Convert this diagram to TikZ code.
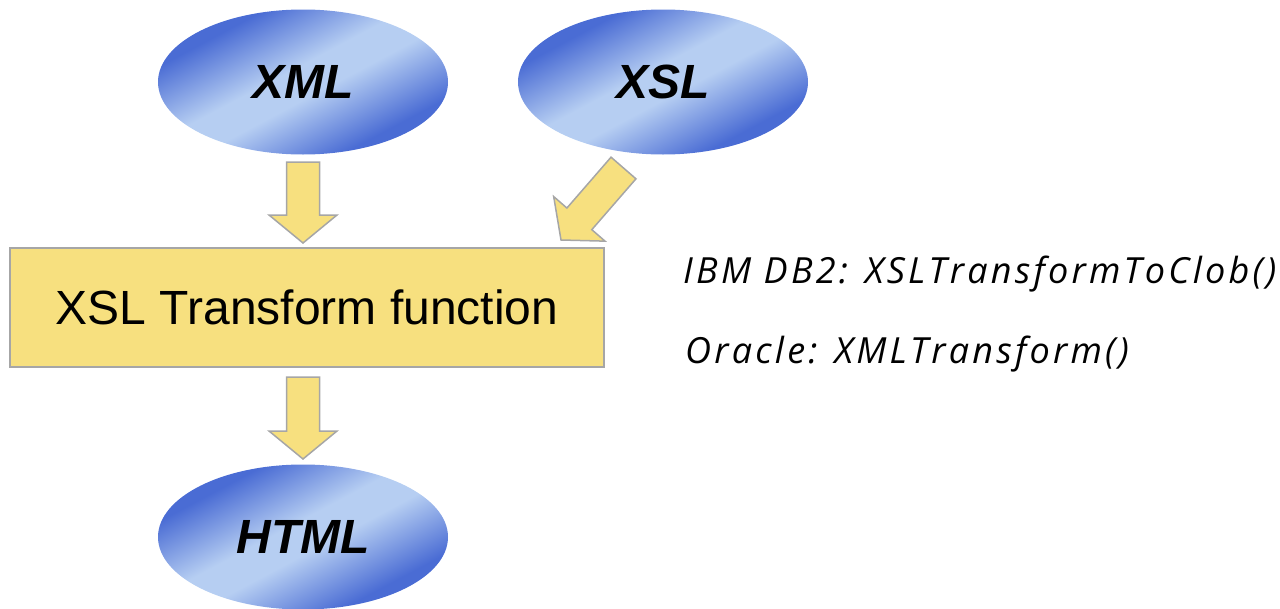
\documentclass[tikz,border=0pt]{standalone}
\usepackage{fontspec}
\setmainfont{Liberation Sans}
\newfontfamily\notefont[LetterSpace=9]{Open Sans}
\usetikzlibrary{shapes.geometric,calc}
\definecolor{elldark}{HTML}{4A6CD4}
\definecolor{elllight}{HTML}{B6CEF2}
\definecolor{boxfill}{HTML}{F7E07F}
\definecolor{boxline}{HTML}{A6A6A6}
\pgfdeclareverticalshading{ellshade}{100bp}{color(0bp)=(elldark); color(29bp)=(elldark);
  color(46bp)=(elllight); color(54bp)=(elllight); color(71bp)=(elldark); color(100bp)=(elldark)}
\tikzset{
  ellnode/.style={ellipse, minimum width=290pt, minimum height=145pt, inner sep=0pt,
    shading=ellshade, shading angle=28,
    font=\fontsize{48}{52}\selectfont\bfseries\itshape},
  fnbox/.style={draw=boxline, line width=1.5pt, fill=boxfill, minimum width=594pt,
    minimum height=119pt, inner sep=0pt, font=\fontsize{48}{52}\selectfont},
  blockarr/.style={draw=boxline, line width=1.5pt, fill=boxfill, line join=miter},
  notetext/.style={anchor=base west, inner sep=0pt, font=\notefont\itshape\fontsize{36}{38}\selectfont}
}
\newcommand{\blockarrow}[2]{%
  \coordinate (h) at ($(#2)!28pt!(#1)$);
  \draw[blockarr] ($(#1)!16.5pt!90:(#2)$) -- ($(h)!16.5pt!90:(#2)$) -- ($(h)!34pt!90:(#2)$)
    -- (#2) -- ($(h)!34pt!-90:(#2)$) -- ($(h)!16.5pt!-90:(#2)$) -- ($(#1)!16.5pt!-90:(#2)$) -- cycle;}
\begin{document}
\begin{tikzpicture}[x=1pt,y=-1pt]
\useasboundingbox (0,0) rectangle (1280,608);
\node[ellnode] (xml) at (303,82) {XML};
\node[ellnode] (xsl) at (663,82) {XSL};
\node[ellnode] (html) at (303,537) {HTML};
\node[fnbox] (fn) at (307,307.5) {XSL Transform function};
\coordinate (a1s) at (303,162);
\coordinate (a1e) at (303,243);
\coordinate (a2s) at (623.5,168);
\coordinate (a2e) at (561,240);
\coordinate (a3s) at (303,377);
\coordinate (a3e) at (303,459);
\blockarrow{a1s}{a1e}
\blockarrow{a2s}{a2e}
\blockarrow{a3s}{a3e}
\node[notetext] (db2) at (683,283) {IBM DB2: XSLTransformToClob()};
\node[notetext] (ora) at (685,363) {Oracle: XMLTransform()};
\end{tikzpicture}
\end{document}
